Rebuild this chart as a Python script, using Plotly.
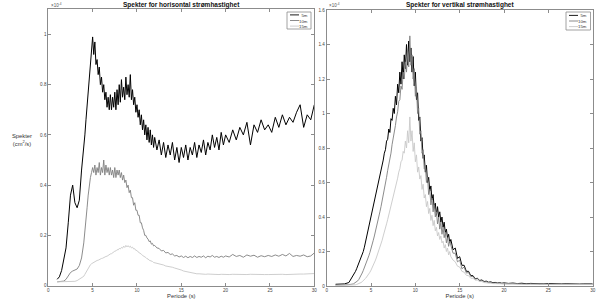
import plotly.graph_objects as go

# ---------------- DATA (values in units of 1e-4 cm^2/s) ----------------
period_h = [1.0, 1.25, 1.5, 1.75, 2.0, 2.25, 2.5, 2.75, 3.0, 3.25, 3.5, 3.75,
            4.0, 4.125, 4.25, 4.375, 4.5, 4.625, 4.75, 4.875,
            5.0, 5.125, 5.25, 5.375, 5.5, 5.625, 5.75, 5.875,
            6.0, 6.125, 6.25, 6.375, 6.5, 6.625, 6.75, 6.875,
            7.0, 7.125, 7.25, 7.375, 7.5, 7.625, 7.75, 7.875,
            8.0, 8.125, 8.25, 8.375, 8.5, 8.625, 8.75, 8.875,
            9.0, 9.125, 9.25, 9.375, 9.5, 9.625, 9.75, 9.875,
            10.0, 10.125, 10.25, 10.375, 10.5, 10.625, 10.75, 10.875,
            11.0, 11.125, 11.25, 11.375, 11.5, 11.625, 11.75, 11.875,
            12.0, 12.25, 12.5, 12.75, 13.0, 13.25, 13.5, 13.75,
            14.0, 14.25, 14.5, 14.75, 15.0, 15.25, 15.5, 15.75,
            16.0, 16.25, 16.5, 16.75, 17.0, 17.25, 17.5, 17.75,
            18.0, 18.25, 18.5, 18.75, 19.0, 19.25, 19.5, 19.75,
            20.0, 20.4, 20.8, 21.2, 21.6, 22.0, 22.4, 22.8, 23.2, 23.6,
            24.0, 24.4, 24.8, 25.2, 25.6, 26.0, 26.4, 26.8, 27.2, 27.6,
            28.0, 28.4, 28.8, 29.2, 29.6, 30.0]

h_5m = [0.025, 0.035, 0.06, 0.10, 0.15, 0.25, 0.36, 0.40, 0.33, 0.31, 0.34, 0.46,
        0.54, 0.60, 0.66, 0.72, 0.78, 0.84, 0.88, 0.95,
        0.99, 0.92, 0.97, 0.88, 0.90, 0.84, 0.87, 0.80,
        0.83, 0.77, 0.80, 0.74, 0.77, 0.71, 0.75, 0.70,
        0.76, 0.70, 0.75, 0.71, 0.77, 0.70, 0.78, 0.72,
        0.80, 0.73, 0.82, 0.75, 0.79, 0.74, 0.83, 0.76,
        0.80, 0.75, 0.84, 0.74, 0.78, 0.72, 0.75, 0.69,
        0.72, 0.67, 0.70, 0.64, 0.68, 0.62, 0.66, 0.60,
        0.64, 0.58, 0.63, 0.57, 0.62, 0.56, 0.60, 0.55,
        0.59, 0.54, 0.58, 0.52, 0.57, 0.51, 0.56, 0.52,
        0.57, 0.50, 0.55, 0.49, 0.55, 0.51, 0.56, 0.50,
        0.55, 0.52, 0.57, 0.51, 0.56, 0.53, 0.58, 0.52,
        0.57, 0.54, 0.60, 0.55, 0.59, 0.54, 0.61, 0.56,
        0.60, 0.57, 0.62, 0.58, 0.63, 0.60, 0.65, 0.56, 0.64, 0.61,
        0.66, 0.62, 0.64, 0.61, 0.67, 0.63, 0.68, 0.64, 0.67, 0.65,
        0.69, 0.72, 0.63, 0.68, 0.66, 0.72]

h_10m = [0.015, 0.015, 0.016, 0.018, 0.025, 0.04, 0.052, 0.058, 0.062, 0.066, 0.08, 0.11,
         0.17, 0.21, 0.26, 0.31, 0.36, 0.40, 0.43, 0.45,
         0.47, 0.45, 0.48, 0.44, 0.47, 0.45, 0.49, 0.44,
         0.47, 0.45, 0.50, 0.44, 0.48, 0.45, 0.47, 0.44,
         0.47, 0.44, 0.46, 0.43, 0.47, 0.43, 0.46, 0.44,
         0.46, 0.43, 0.45, 0.42, 0.44, 0.41, 0.42, 0.39,
         0.40, 0.37, 0.38, 0.35, 0.35, 0.32, 0.33, 0.30,
         0.30, 0.28, 0.28, 0.25, 0.25, 0.23, 0.22, 0.20,
         0.20, 0.19, 0.185, 0.175, 0.178, 0.165, 0.168, 0.158,
         0.16, 0.15, 0.148, 0.138, 0.14, 0.13, 0.132, 0.124,
         0.126, 0.118, 0.12, 0.114, 0.118, 0.112, 0.117, 0.111,
         0.116, 0.112, 0.118, 0.112, 0.116, 0.113, 0.118, 0.111,
         0.117, 0.114, 0.12, 0.113, 0.116, 0.112, 0.117, 0.113,
         0.118, 0.114, 0.124, 0.116, 0.12, 0.113, 0.122, 0.117, 0.121, 0.113,
         0.119, 0.115, 0.12, 0.116, 0.122, 0.117, 0.124, 0.118, 0.128, 0.116,
         0.12, 0.117, 0.122, 0.115, 0.118, 0.13]

h_15m = [0.015, 0.015, 0.015, 0.015, 0.015, 0.015, 0.015, 0.016, 0.017, 0.02, 0.025, 0.03,
         0.037, 0.045, 0.053, 0.062, 0.07, 0.077, 0.083, 0.087,
         0.09, 0.093, 0.095, 0.098, 0.10, 0.101, 0.104, 0.105,
         0.108, 0.109, 0.112, 0.113, 0.116, 0.117, 0.121, 0.122,
         0.126, 0.127, 0.131, 0.132, 0.137, 0.138, 0.143, 0.142,
         0.148, 0.146, 0.152, 0.149, 0.157, 0.152, 0.160, 0.154,
         0.159, 0.153, 0.157, 0.150, 0.153, 0.146, 0.147, 0.140,
         0.140, 0.134, 0.132, 0.127, 0.125, 0.120, 0.118, 0.113,
         0.112, 0.107, 0.106, 0.101, 0.100, 0.096, 0.096, 0.092,
         0.091, 0.088, 0.087, 0.083, 0.082, 0.078, 0.077, 0.074,
         0.073, 0.07, 0.068, 0.065, 0.062, 0.058, 0.056, 0.053,
         0.052, 0.05, 0.049, 0.047, 0.047, 0.046, 0.046, 0.045,
         0.046, 0.045, 0.045, 0.044, 0.045, 0.044, 0.045, 0.044,
         0.045, 0.044, 0.045, 0.044, 0.045, 0.044, 0.044, 0.045, 0.044, 0.044,
         0.045, 0.044, 0.044, 0.045, 0.044, 0.044, 0.045, 0.044, 0.045, 0.044,
         0.045, 0.046, 0.046, 0.047, 0.047, 0.048]

period_v = [1.0, 1.5, 2.0, 2.5,
            3.0, 3.125, 3.25, 3.375, 3.5, 3.625, 3.75, 3.875,
            4.0, 4.125, 4.25, 4.375, 4.5, 4.625, 4.75, 4.875,
            5.0, 5.125, 5.25, 5.375, 5.5, 5.625, 5.75, 5.875,
            6.0, 6.125, 6.25, 6.375, 6.5, 6.625, 6.75, 6.875,
            7.0, 7.125, 7.25, 7.375, 7.5, 7.625, 7.75, 7.875,
            8.0, 8.125, 8.25, 8.375, 8.5, 8.625, 8.75, 8.875,
            9.0, 9.125, 9.25, 9.375, 9.5, 9.625, 9.75, 9.875,
            10.0, 10.125, 10.25, 10.375, 10.5, 10.625, 10.75, 10.875,
            11.0, 11.125, 11.25, 11.375, 11.5, 11.625, 11.75, 11.875,
            12.0, 12.125, 12.25, 12.375, 12.5, 12.625, 12.75, 12.875,
            13.0, 13.125, 13.25, 13.375, 13.5, 13.625, 13.75, 13.875,
            14.0, 14.25, 14.5, 14.75, 15.0, 15.25, 15.5, 15.75,
            16.0, 16.25, 16.5, 16.75, 17.0, 17.25, 17.5, 17.75,
            18.0, 18.25, 18.5, 18.75, 19.0, 19.25, 19.5, 19.75,
            20.0, 20.5, 21.0, 21.5, 22.0, 22.5, 23.0, 23.5, 24.0, 24.5,
            25.0, 25.5, 26.0, 26.5, 27.0, 27.5, 28.0, 28.5, 29.0, 29.5, 30.0]

v_5m = [0.01, 0.01, 0.012, 0.02,
        0.06, 0.07, 0.085, 0.10, 0.115, 0.13, 0.148, 0.165,
        0.18, 0.20, 0.225, 0.255, 0.28, 0.31, 0.34, 0.37,
        0.39, 0.42, 0.45, 0.48, 0.51, 0.535, 0.57, 0.60,
        0.63, 0.66, 0.70, 0.73, 0.77, 0.79, 0.84, 0.85,
        0.91, 0.89, 0.97, 0.96, 1.03, 1.00, 1.10, 1.05,
        1.17, 1.12, 1.24, 1.17, 1.30, 1.20, 1.34, 1.26,
        1.40, 1.28, 1.42, 1.30, 1.38, 1.24, 1.33, 1.16,
        1.24, 1.08, 1.12, 0.96, 0.98, 0.84, 0.86, 0.74,
        0.76, 0.66, 0.70, 0.60, 0.63, 0.55, 0.58, 0.50,
        0.53, 0.45, 0.48, 0.41, 0.46, 0.40, 0.43, 0.37,
        0.40, 0.34, 0.37, 0.31, 0.33, 0.28, 0.30, 0.25,
        0.27, 0.21, 0.22, 0.16, 0.17, 0.12, 0.12, 0.085,
        0.085, 0.06, 0.06, 0.042, 0.045, 0.032, 0.035, 0.026,
        0.028, 0.022, 0.024, 0.019, 0.021, 0.017, 0.019, 0.016,
        0.018, 0.015, 0.017, 0.014, 0.016, 0.013, 0.015, 0.013, 0.014, 0.012,
        0.014, 0.012, 0.013, 0.012, 0.013, 0.011, 0.013, 0.011, 0.012, 0.011, 0.012]

v_10m = [0.005, 0.005, 0.006, 0.008,
         0.012, 0.016, 0.02, 0.025, 0.03, 0.038, 0.048, 0.06,
         0.075, 0.09, 0.105, 0.12, 0.135, 0.155, 0.175, 0.195,
         0.215, 0.24, 0.265, 0.29, 0.315, 0.345, 0.37, 0.40,
         0.43, 0.46, 0.49, 0.53, 0.56, 0.60, 0.63, 0.67,
         0.70, 0.74, 0.77, 0.82, 0.85, 0.90, 0.93, 0.98,
         1.01, 1.07, 1.08, 1.16, 1.14, 1.24, 1.20, 1.30,
         1.24, 1.36, 1.27, 1.45, 1.28, 1.34, 1.20, 1.26,
         1.10, 1.15, 1.00, 1.03, 0.88, 0.90, 0.77, 0.79,
         0.68, 0.70, 0.60, 0.63, 0.53, 0.56, 0.47, 0.51,
         0.43, 0.47, 0.40, 0.43, 0.36, 0.40, 0.33, 0.37,
         0.30, 0.34, 0.28, 0.31, 0.25, 0.28, 0.23, 0.26,
         0.23, 0.19, 0.19, 0.14, 0.15, 0.10, 0.11, 0.075,
         0.078, 0.055, 0.056, 0.04, 0.042, 0.03, 0.032, 0.024,
         0.025, 0.02, 0.021, 0.017, 0.018, 0.015, 0.016, 0.014,
         0.015, 0.013, 0.014, 0.012, 0.013, 0.011, 0.012, 0.011, 0.012, 0.010,
         0.011, 0.010, 0.011, 0.010, 0.011, 0.010, 0.011, 0.010, 0.010, 0.010, 0.011]

v_15m = [0.003, 0.003, 0.003, 0.004,
         0.005, 0.006, 0.007, 0.009, 0.011, 0.013, 0.016, 0.02,
         0.025, 0.03, 0.037, 0.044, 0.052, 0.06, 0.07, 0.08,
         0.092, 0.105, 0.12, 0.135, 0.15, 0.168, 0.186, 0.205,
         0.225, 0.245, 0.265, 0.29, 0.31, 0.335, 0.36, 0.385,
         0.41, 0.435, 0.46, 0.49, 0.515, 0.545, 0.57, 0.60,
         0.625, 0.66, 0.68, 0.72, 0.73, 0.78, 0.77, 0.84,
         0.80, 0.90, 0.83, 0.98, 0.84, 0.90, 0.78, 0.83,
         0.72, 0.76, 0.66, 0.69, 0.62, 0.64, 0.56, 0.59,
         0.51, 0.53, 0.46, 0.49, 0.42, 0.45, 0.38, 0.41,
         0.35, 0.38, 0.32, 0.34, 0.29, 0.31, 0.27, 0.29,
         0.25, 0.26, 0.22, 0.24, 0.20, 0.22, 0.18, 0.20,
         0.17, 0.15, 0.14, 0.115, 0.11, 0.085, 0.08, 0.062,
         0.06, 0.045, 0.045, 0.034, 0.034, 0.026, 0.026, 0.02,
         0.02, 0.016, 0.016, 0.014, 0.014, 0.012, 0.012, 0.011,
         0.011, 0.010, 0.010, 0.010, 0.009, 0.010, 0.009, 0.009, 0.010, 0.009,
         0.009, 0.009, 0.009, 0.009, 0.009, 0.009, 0.009, 0.009, 0.009, 0.009, 0.009]

series_names = ["5m", "10m", "15m"]
series_colors = ["#000000", "#7f7f7f", "#c8c8c8"]
series_widths = [1.0, 0.9, 0.9]
x_ticks = [0, 5, 10, 15, 20, 25, 30]
h_yticks = [0, 0.2, 0.4, 0.6, 0.8, 1.0]
h_yticktext = ["0", "0.2", "0.4", "0.6", "0.8", "1"]
v_yticks = [0, 0.2, 0.4, 0.6, 0.8, 1.0, 1.2, 1.4, 1.6]
v_yticktext = ["0", "0.2", "0.4", "0.6", "0.8", "1", "1.2", "1.4", "1.6"]
titles = ["Spekter for horisontal strømhastighet", "Spekter for vertikal strømhastighet"]
x_title = "Periode (s)"

for a, b in [(period_h, h_5m), (period_h, h_10m), (period_h, h_15m),
             (period_v, v_5m), (period_v, v_10m), (period_v, v_15m)]:
    assert len(a) == len(b), (len(a), len(b))

# ---------------- FIGURE ----------------
W, H = 605, 301
FONT = "Liberation Sans"


def px(x):
    return x / W


def py(y):
    return 1 - y / H


fig = go.Figure()
for vals, name, col, w in zip([h_5m, h_10m, h_15m], series_names, series_colors, series_widths):
    fig.add_trace(go.Scatter(x=period_h, y=vals, mode="lines", name=name,
                             line=dict(color=col, width=w), showlegend=False,
                             xaxis="x", yaxis="y"))
for vals, name, col, w in zip([v_5m, v_10m, v_15m], series_names, series_colors, series_widths):
    fig.add_trace(go.Scatter(x=period_v, y=vals, mode="lines", name=name,
                             line=dict(color=col, width=w), showlegend=False,
                             xaxis="x2", yaxis="y2"))

axis_common = dict(showline=True, linecolor="#8c8c8c", linewidth=0.8, mirror="ticks",
                   ticks="inside", ticklen=3, tickcolor="#8c8c8c", tickwidth=0.8,
                   showgrid=False, zeroline=False, automargin=False,
                   tickfont=dict(family=FONT, size=4.6, color="#444444"))
xtitle = dict(text=x_title, font=dict(family=FONT, size=5.8, color="#333333"), standoff=0)

L = dict(x0=48.3, x1=314.3, ytop=9.3, ybot=285.6)
R = dict(x0=326.7, x1=592.7, ytop=10.0, ybot=286.0)

fig.update_layout(
    template="none",
    width=W, height=H, margin=dict(l=0, r=0, t=0, b=0),
    paper_bgcolor="white", plot_bgcolor="white", showlegend=False,
    xaxis=dict(domain=[px(L["x0"]), px(L["x1"])], range=[0, 30], anchor="y", title=xtitle,
               tickvals=x_ticks, ticktext=[str(t) for t in x_ticks], **axis_common),
    yaxis=dict(domain=[py(L["ybot"]), py(L["ytop"])], range=[0, 1.1], anchor="x",
               tickvals=h_yticks, ticktext=h_yticktext, **axis_common),
    xaxis2=dict(domain=[px(R["x0"]), px(R["x1"])], range=[0, 30], anchor="y2", title=xtitle,
                tickvals=x_ticks, ticktext=[str(t) for t in x_ticks], **axis_common),
    yaxis2=dict(domain=[py(R["ybot"]), py(R["ytop"])], range=[0, 1.6], anchor="x2",
                tickvals=v_yticks, ticktext=v_yticktext, **axis_common),
)

ann = []
for t, P in zip(titles, [L, R]):
    ann.append(dict(text="<b>" + t + "</b>", x=px((P["x0"] + P["x1"]) / 2), y=py(4.5),
                    xref="paper", yref="paper", showarrow=False, xanchor="center",
                    yanchor="middle", font=dict(family=FONT, size=6.5, color="#111111")))
    ann.append(dict(text="×10<sup>-4</sup>", x=px(P["x0"] + 0.5), y=py(5.0),
                    xref="paper", yref="paper", showarrow=False, xanchor="left",
                    yanchor="middle", font=dict(family=FONT, size=4.5, color="#555555")))
ann.append(dict(text="Spekter<br>(cm<sup>2</sup>/s)", x=px(21.5), y=py(140),
                xref="paper", yref="paper", showarrow=False, xanchor="center",
                yanchor="middle", align="center",
                font=dict(family=FONT, size=5.8, color="#333333")))

shapes = []
for bx0, bx1, by0, by1 in [(287, 311, 12, 29), (566, 590.5, 12, 30)]:
    shapes.append(dict(type="rect", xref="paper", yref="paper",
                       x0=px(bx0), x1=px(bx1), y0=py(by1), y1=py(by0),
                       line=dict(color="#8c8c8c", width=0.8), fillcolor="rgba(0,0,0,0)",
                       layer="below"))
    ymid = (by0 + by1) / 2
    step = 5.6
    for k, col in enumerate(series_colors):
        ry = ymid + (k - 1) * step
        shapes.append(dict(type="line", xref="paper", yref="paper",
                           x0=px(bx0 + 3), x1=px(bx0 + 12), y0=py(ry), y1=py(ry),
                           line=dict(color=col, width=0.9), layer="below"))
    ann.append(dict(text="<br>".join(series_names), x=px(bx1 - 1.2), y=py(ymid),
                    xref="paper", yref="paper", showarrow=False, xanchor="right",
                    yanchor="middle", align="right",
                    font=dict(family=FONT, size=4.3, color="#333333")))

fig.update_layout(annotations=ann, shapes=shapes)
fig.write_html("out.html")
